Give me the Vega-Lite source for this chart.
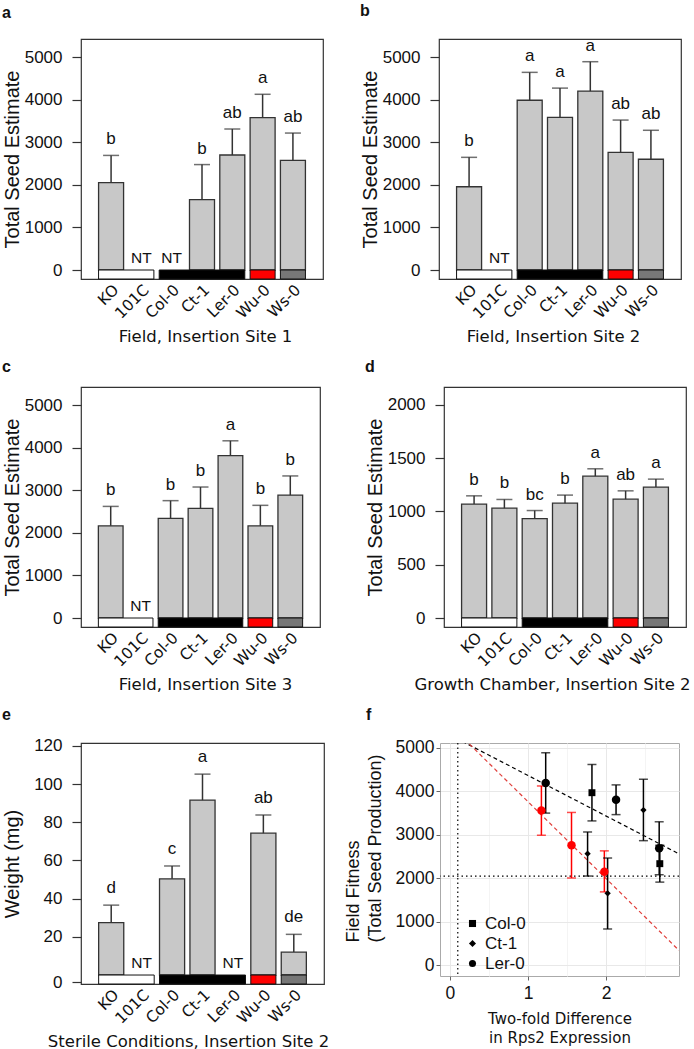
{
"$schema": "https://vega.github.io/schema/vega-lite/v6.json",
"background": "white",
"padding": {"left": 1, "top": 2, "right": 0, "bottom": 0},
"config": {
 "font": "Liberation Sans",
 "view": {"stroke": "#333333", "strokeWidth": 1.2},
 "title": {"anchor": "start", "frame": "bounds", "font": "Liberation Sans", "fontSize": 16, "fontWeight": "bold", "color": "#111111", "baseline": "alphabetic"},
 "axisX": {"labelAngle": -45, "domain": false, "ticks": false, "grid": false, "labelFont": "DejaVu Sans", "labelFontSize": 15.5, "labelColor": "#111111", "labelPadding": 3, "titleFont": "DejaVu Sans", "titleFontSize": 16.5, "titleFontWeight": "normal", "titleColor": "#111111", "titlePadding": 4, "minExtent": 45, "maxExtent": 45},
 "axisY": {"domain": false, "grid": false, "format": "d", "tickSize": 9, "tickColor": "#333333", "tickWidth": 1.2, "labelFont": "Liberation Sans", "labelFontSize": 17, "labelColor": "#111111", "labelPadding": 10, "titleFont": "Liberation Sans", "titleFontSize": 20, "titleFontWeight": "normal", "titleColor": "#111111", "titlePadding": 1, "minExtent": 58, "maxExtent": 58}
},
"datasets": {
 "strips": [
  {"group": "KO/101C", "first": "KO", "last": "101C"},
  {"group": "Col-0/Ct-1/Ler-0", "first": "Col-0", "last": "Ler-0"},
  {"group": "Wu-0", "first": "Wu-0", "last": "Wu-0"},
  {"group": "Ws-0", "first": "Ws-0", "last": "Ws-0"}
 ],
 "a": [
  {"genotype": "KO", "mean": 2050, "upper": 2690, "letter": "b"},
  {"genotype": "101C", "mean": null, "upper": null, "letter": "NT"},
  {"genotype": "Col-0", "mean": null, "upper": null, "letter": "NT"},
  {"genotype": "Ct-1", "mean": 1650, "upper": 2475, "letter": "b"},
  {"genotype": "Ler-0", "mean": 2700, "upper": 3310, "letter": "ab"},
  {"genotype": "Wu-0", "mean": 3575, "upper": 4125, "letter": "a"},
  {"genotype": "Ws-0", "mean": 2575, "upper": 3215, "letter": "ab"}
 ],
 "b": [
  {"genotype": "KO", "mean": 1955, "upper": 2645, "letter": "b"},
  {"genotype": "101C", "mean": null, "upper": null, "letter": "NT"},
  {"genotype": "Col-0", "mean": 3985, "upper": 4640, "letter": "a"},
  {"genotype": "Ct-1", "mean": 3585, "upper": 4270, "letter": "a"},
  {"genotype": "Ler-0", "mean": 4200, "upper": 4890, "letter": "a"},
  {"genotype": "Wu-0", "mean": 2760, "upper": 3520, "letter": "ab"},
  {"genotype": "Ws-0", "mean": 2600, "upper": 3280, "letter": "ab"}
 ],
 "c": [
  {"genotype": "KO", "mean": 2165, "upper": 2620, "letter": "b"},
  {"genotype": "101C", "mean": null, "upper": null, "letter": "NT"},
  {"genotype": "Col-0", "mean": 2340, "upper": 2755, "letter": "b"},
  {"genotype": "Ct-1", "mean": 2575, "upper": 3075, "letter": "b"},
  {"genotype": "Ler-0", "mean": 3810, "upper": 4160, "letter": "a"},
  {"genotype": "Wu-0", "mean": 2165, "upper": 2645, "letter": "b"},
  {"genotype": "Ws-0", "mean": 2885, "upper": 3335, "letter": "b"}
 ],
 "d": [
  {"genotype": "KO", "mean": 1070, "upper": 1147, "letter": "b"},
  {"genotype": "101C", "mean": 1031, "upper": 1113, "letter": "b"},
  {"genotype": "Col-0", "mean": 934, "upper": 1009, "letter": "bc"},
  {"genotype": "Ct-1", "mean": 1078, "upper": 1154, "letter": "b"},
  {"genotype": "Ler-0", "mean": 1332, "upper": 1401, "letter": "a"},
  {"genotype": "Wu-0", "mean": 1116, "upper": 1194, "letter": "ab"},
  {"genotype": "Ws-0", "mean": 1229, "upper": 1304, "letter": "a"}
 ],
 "e": [
  {"genotype": "KO", "mean": 27.4, "upper": 36.6, "letter": "d"},
  {"genotype": "101C", "mean": null, "upper": null, "letter": "NT"},
  {"genotype": "Col-0", "mean": 50.4, "upper": 57.1, "letter": "c"},
  {"genotype": "Ct-1", "mean": 91.6, "upper": 105.2, "letter": "a"},
  {"genotype": "Ler-0", "mean": null, "upper": null, "letter": "NT"},
  {"genotype": "Wu-0", "mean": 74.3, "upper": 83.8, "letter": "ab"},
  {"genotype": "Ws-0", "mean": 12.0, "upper": 21.3, "letter": "de"}
 ],
 "f": [
  {"genotype": "Ler-0", "x": 1.227, "mean": 4195, "lo": 3500, "hi": 4890},
  {"genotype": "Wu-0", "x": 1.172, "mean": 3560, "lo": 2990, "hi": 4125},
  {"genotype": "Wu-0", "x": 1.558, "mean": 2760, "lo": 2005, "hi": 3515},
  {"genotype": "Wu-0", "x": 1.979, "mean": 2150, "lo": 1685, "hi": 2630},
  {"genotype": "Col-0", "x": 1.82, "mean": 3970, "lo": 3320, "hi": 4620},
  {"genotype": "Ler-0", "x": 2.129, "mean": 3810, "lo": 3465, "hi": 4150},
  {"genotype": "Ct-1", "x": 2.48, "mean": 3570, "lo": 2865, "hi": 4280},
  {"genotype": "Ler-0", "x": 2.682, "mean": 2690, "lo": 2080, "hi": 3300},
  {"genotype": "Col-0", "x": 2.69, "mean": 2335, "lo": 1910, "hi": 2760},
  {"genotype": "Ct-1", "x": 1.764, "mean": 2565, "lo": 2050, "hi": 3065},
  {"genotype": "Ct-1", "x": 2.021, "mean": 1651, "lo": 830, "hi": 2465}
 ],
 "fref": [
  {"axis": "x", "value": 0.1},
  {"axis": "y", "value": 2050}
 ],
 "fits": [
  {"fit": "all", "x": 0.0, "y": 5300},
  {"fit": "all", "x": 2.94, "y": 2557},
  {"fit": "wu", "x": 0.25, "y": 5090},
  {"fit": "wu", "x": 2.94, "y": 330}
 ]
},
"resolve": {"scale": {"x": "independent", "y": "independent", "shape": "independent"}, "legend": {"shape": "independent"}},
"spacing": 12,
"vconcat": [
 {"resolve": {"scale": {"x": "independent", "y": "independent"}}, "spacing": 35, "hconcat": [
  {"width": 242, "height": 240, "title": {"text": "a", "offset": 18}, "data": {"name": "a"},
   "encoding": {"x": {"field": "genotype", "type": "nominal", "scale": {"domain": ["KO","101C","Col-0","Ct-1","Ler-0","Wu-0","Ws-0"], "paddingInner": 0.175, "paddingOuter": 0.58}, "axis": {"title": "Field, Insertion Site 1", "titleX": 124}}},
   "layer": [
    {"transform": [{"filter": "isValid(datum.mean)"}], "mark": {"type": "bar", "fill": "#c8c8c8", "stroke": "#333333", "strokeWidth": 1.3},
     "encoding": {"y": {"field": "mean", "type": "quantitative", "scale": {"domain": [-211, 5423], "nice": false, "zero": false}, "axis": {"values": [0,1000,2000,3000,4000,5000], "title": "Total Seed Estimate"}}, "y2": {"datum": 0}}},
    {"data": {"name": "strips"}, "mark": {"type": "rect", "stroke": "#111111", "strokeWidth": 1},
     "encoding": {"x": {"field": "first", "type": "nominal", "bandPosition": 0, "scale": {"domain": ["KO","101C","Col-0","Ct-1","Ler-0","Wu-0","Ws-0"], "paddingInner": 0.175, "paddingOuter": 0.58}}, "x2": {"field": "last", "bandPosition": 1},
      "y": {"datum": 0, "type": "quantitative", "scale": {"domain": [-211, 5423], "nice": false, "zero": false}}, "y2": {"datum": -211},
      "fill": {"field": "group", "type": "nominal", "scale": {"domain": ["KO/101C","Col-0/Ct-1/Ler-0","Wu-0","Ws-0"], "range": ["#ffffff","#000000","#ff0000","#777777"]}, "legend": null}}},
    {"transform": [{"filter": "isValid(datum.mean)"}], "mark": {"type": "rule", "color": "#333333", "strokeWidth": 1.5},
     "encoding": {"y": {"field": "mean", "type": "quantitative", "scale": {"domain": [-211, 5423], "nice": false, "zero": false}}, "y2": {"field": "upper"}}},
    {"transform": [{"filter": "isValid(datum.mean)"}], "mark": {"type": "tick", "color": "#333333", "thickness": 1.5, "size": 16},
     "encoding": {"y": {"field": "upper", "type": "quantitative", "scale": {"domain": [-211, 5423], "nice": false, "zero": false}}}},
    {"transform": [{"filter": "isValid(datum.mean)"}], "mark": {"type": "text", "fontSize": 17, "dy": -11, "baseline": "alphabetic", "color": "#111111"},
     "encoding": {"y": {"field": "upper", "type": "quantitative", "scale": {"domain": [-211, 5423], "nice": false, "zero": false}}, "text": {"field": "letter"}}},
    {"transform": [{"filter": "datum.letter === 'NT'"}], "mark": {"type": "text", "fontSize": 15.5, "dy": -7, "baseline": "alphabetic", "color": "#111111"},
     "encoding": {"y": {"datum": 0, "type": "quantitative", "scale": {"domain": [-211, 5423], "nice": false, "zero": false}}, "text": {"field": "letter"}}}
   ]},
  {"width": 242, "height": 240, "title": {"text": "b", "offset": 18}, "data": {"name": "b"},
   "encoding": {"x": {"field": "genotype", "type": "nominal", "scale": {"domain": ["KO","101C","Col-0","Ct-1","Ler-0","Wu-0","Ws-0"], "paddingInner": 0.175, "paddingOuter": 0.58}, "axis": {"title": "Field, Insertion Site 2", "titleX": 114}}},
   "layer": [
    {"transform": [{"filter": "isValid(datum.mean)"}], "mark": {"type": "bar", "fill": "#c8c8c8", "stroke": "#333333", "strokeWidth": 1.3},
     "encoding": {"y": {"field": "mean", "type": "quantitative", "scale": {"domain": [-211, 5423], "nice": false, "zero": false}, "axis": {"values": [0,1000,2000,3000,4000,5000], "title": "Total Seed Estimate"}}, "y2": {"datum": 0}}},
    {"data": {"name": "strips"}, "mark": {"type": "rect", "stroke": "#111111", "strokeWidth": 1},
     "encoding": {"x": {"field": "first", "type": "nominal", "bandPosition": 0, "scale": {"domain": ["KO","101C","Col-0","Ct-1","Ler-0","Wu-0","Ws-0"], "paddingInner": 0.175, "paddingOuter": 0.58}}, "x2": {"field": "last", "bandPosition": 1},
      "y": {"datum": 0, "type": "quantitative", "scale": {"domain": [-211, 5423], "nice": false, "zero": false}}, "y2": {"datum": -211},
      "fill": {"field": "group", "type": "nominal", "scale": {"domain": ["KO/101C","Col-0/Ct-1/Ler-0","Wu-0","Ws-0"], "range": ["#ffffff","#000000","#ff0000","#777777"]}, "legend": null}}},
    {"transform": [{"filter": "isValid(datum.mean)"}], "mark": {"type": "rule", "color": "#333333", "strokeWidth": 1.5},
     "encoding": {"y": {"field": "mean", "type": "quantitative", "scale": {"domain": [-211, 5423], "nice": false, "zero": false}}, "y2": {"field": "upper"}}},
    {"transform": [{"filter": "isValid(datum.mean)"}], "mark": {"type": "tick", "color": "#333333", "thickness": 1.5, "size": 16},
     "encoding": {"y": {"field": "upper", "type": "quantitative", "scale": {"domain": [-211, 5423], "nice": false, "zero": false}}}},
    {"transform": [{"filter": "isValid(datum.mean)"}], "mark": {"type": "text", "fontSize": 17, "dy": -11, "baseline": "alphabetic", "color": "#111111"},
     "encoding": {"y": {"field": "upper", "type": "quantitative", "scale": {"domain": [-211, 5423], "nice": false, "zero": false}}, "text": {"field": "letter"}}},
    {"transform": [{"filter": "datum.letter === 'NT'"}], "mark": {"type": "text", "fontSize": 15.5, "dy": -7, "baseline": "alphabetic", "color": "#111111"},
     "encoding": {"y": {"datum": 0, "type": "quantitative", "scale": {"domain": [-211, 5423], "nice": false, "zero": false}}, "text": {"field": "letter"}}}
   ]}
 ]},
 {"resolve": {"scale": {"x": "independent", "y": "independent"}}, "spacing": 43, "hconcat": [
  {"width": 239, "height": 240, "title": {"text": "c", "offset": 12}, "data": {"name": "c"},
   "encoding": {"x": {"field": "genotype", "type": "nominal", "scale": {"domain": ["KO","101C","Col-0","Ct-1","Ler-0","Wu-0","Ws-0"], "paddingInner": 0.175, "paddingOuter": 0.58}, "axis": {"title": "Field, Insertion Site 3", "titleX": 124}}},
   "layer": [
    {"transform": [{"filter": "isValid(datum.mean)"}], "mark": {"type": "bar", "fill": "#c8c8c8", "stroke": "#333333", "strokeWidth": 1.3},
     "encoding": {"y": {"field": "mean", "type": "quantitative", "scale": {"domain": [-211, 5423], "nice": false, "zero": false}, "axis": {"values": [0,1000,2000,3000,4000,5000], "title": "Total Seed Estimate"}}, "y2": {"datum": 0}}},
    {"data": {"name": "strips"}, "mark": {"type": "rect", "stroke": "#111111", "strokeWidth": 1},
     "encoding": {"x": {"field": "first", "type": "nominal", "bandPosition": 0, "scale": {"domain": ["KO","101C","Col-0","Ct-1","Ler-0","Wu-0","Ws-0"], "paddingInner": 0.175, "paddingOuter": 0.58}}, "x2": {"field": "last", "bandPosition": 1},
      "y": {"datum": 0, "type": "quantitative", "scale": {"domain": [-211, 5423], "nice": false, "zero": false}}, "y2": {"datum": -211},
      "fill": {"field": "group", "type": "nominal", "scale": {"domain": ["KO/101C","Col-0/Ct-1/Ler-0","Wu-0","Ws-0"], "range": ["#ffffff","#000000","#ff0000","#777777"]}, "legend": null}}},
    {"transform": [{"filter": "isValid(datum.mean)"}], "mark": {"type": "rule", "color": "#333333", "strokeWidth": 1.5},
     "encoding": {"y": {"field": "mean", "type": "quantitative", "scale": {"domain": [-211, 5423], "nice": false, "zero": false}}, "y2": {"field": "upper"}}},
    {"transform": [{"filter": "isValid(datum.mean)"}], "mark": {"type": "tick", "color": "#333333", "thickness": 1.5, "size": 16},
     "encoding": {"y": {"field": "upper", "type": "quantitative", "scale": {"domain": [-211, 5423], "nice": false, "zero": false}}}},
    {"transform": [{"filter": "isValid(datum.mean)"}], "mark": {"type": "text", "fontSize": 17, "dy": -11, "baseline": "alphabetic", "color": "#111111"},
     "encoding": {"y": {"field": "upper", "type": "quantitative", "scale": {"domain": [-211, 5423], "nice": false, "zero": false}}, "text": {"field": "letter"}}},
    {"transform": [{"filter": "datum.letter === 'NT'"}], "mark": {"type": "text", "fontSize": 15.5, "dy": -7, "baseline": "alphabetic", "color": "#111111"},
     "encoding": {"y": {"datum": 0, "type": "quantitative", "scale": {"domain": [-211, 5423], "nice": false, "zero": false}}, "text": {"field": "letter"}}}
   ]},
  {"width": 242, "height": 240, "title": {"text": "d", "offset": 12}, "data": {"name": "d"},
   "encoding": {"x": {"field": "genotype", "type": "nominal", "scale": {"domain": ["KO","101C","Col-0","Ct-1","Ler-0","Wu-0","Ws-0"], "paddingInner": 0.175, "paddingOuter": 0.58}, "axis": {"title": "Growth Chamber, Insertion Site 2", "titleX": 108}}},
   "layer": [
    {"transform": [{"filter": "isValid(datum.mean)"}], "mark": {"type": "bar", "fill": "#c8c8c8", "stroke": "#333333", "strokeWidth": 1.3},
     "encoding": {"y": {"field": "mean", "type": "quantitative", "scale": {"domain": [-84.5, 2169], "nice": false, "zero": false}, "axis": {"values": [0,500,1000,1500,2000], "title": "Total Seed Estimate"}}, "y2": {"datum": 0}}},
    {"data": {"name": "strips"}, "mark": {"type": "rect", "stroke": "#111111", "strokeWidth": 1},
     "encoding": {"x": {"field": "first", "type": "nominal", "bandPosition": 0, "scale": {"domain": ["KO","101C","Col-0","Ct-1","Ler-0","Wu-0","Ws-0"], "paddingInner": 0.175, "paddingOuter": 0.58}}, "x2": {"field": "last", "bandPosition": 1},
      "y": {"datum": 0, "type": "quantitative", "scale": {"domain": [-84.5, 2169], "nice": false, "zero": false}}, "y2": {"datum": -84.5},
      "fill": {"field": "group", "type": "nominal", "scale": {"domain": ["KO/101C","Col-0/Ct-1/Ler-0","Wu-0","Ws-0"], "range": ["#ffffff","#000000","#ff0000","#777777"]}, "legend": null}}},
    {"transform": [{"filter": "isValid(datum.mean)"}], "mark": {"type": "rule", "color": "#333333", "strokeWidth": 1.5},
     "encoding": {"y": {"field": "mean", "type": "quantitative", "scale": {"domain": [-84.5, 2169], "nice": false, "zero": false}}, "y2": {"field": "upper"}}},
    {"transform": [{"filter": "isValid(datum.mean)"}], "mark": {"type": "tick", "color": "#333333", "thickness": 1.5, "size": 16},
     "encoding": {"y": {"field": "upper", "type": "quantitative", "scale": {"domain": [-84.5, 2169], "nice": false, "zero": false}}}},
    {"transform": [{"filter": "isValid(datum.mean)"}], "mark": {"type": "text", "fontSize": 17, "dy": -11, "baseline": "alphabetic", "color": "#111111"},
     "encoding": {"y": {"field": "upper", "type": "quantitative", "scale": {"domain": [-84.5, 2169], "nice": false, "zero": false}}, "text": {"field": "letter"}}}
   ]}
 ]},
 {"resolve": {"scale": {"x": "independent", "y": "independent", "shape": "independent"}, "legend": {"shape": "independent"}}, "spacing": 13, "hconcat": [
  {"width": 243, "height": 241, "title": {"text": "e", "offset": 14}, "data": {"name": "e"},
   "encoding": {"x": {"field": "genotype", "type": "nominal", "scale": {"domain": ["KO","101C","Col-0","Ct-1","Ler-0","Wu-0","Ws-0"], "paddingInner": 0.175, "paddingOuter": 0.58}, "axis": {"title": "Sterile Conditions, Insertion Site 2", "titleX": 107}}},
   "layer": [
    {"transform": [{"filter": "isValid(datum.mean)"}], "mark": {"type": "bar", "fill": "#c8c8c8", "stroke": "#333333", "strokeWidth": 1.3},
     "encoding": {"y": {"field": "mean", "type": "quantitative", "scale": {"domain": [-4.7, 121.5], "nice": false, "zero": false}, "axis": {"values": [-3.7,20,40,60,80,100,120], "labelExpr": "datum.value < 0 ? '0' : datum.label", "title": "Weight (mg)"}}, "y2": {"datum": 0}}},
    {"data": {"name": "strips"}, "mark": {"type": "rect", "stroke": "#111111", "strokeWidth": 1},
     "encoding": {"x": {"field": "first", "type": "nominal", "bandPosition": 0, "scale": {"domain": ["KO","101C","Col-0","Ct-1","Ler-0","Wu-0","Ws-0"], "paddingInner": 0.175, "paddingOuter": 0.58}}, "x2": {"field": "last", "bandPosition": 1},
      "y": {"datum": 0, "type": "quantitative", "scale": {"domain": [-4.7, 121.5], "nice": false, "zero": false}}, "y2": {"datum": -4.7},
      "fill": {"field": "group", "type": "nominal", "scale": {"domain": ["KO/101C","Col-0/Ct-1/Ler-0","Wu-0","Ws-0"], "range": ["#ffffff","#000000","#ff0000","#777777"]}, "legend": null}}},
    {"transform": [{"filter": "isValid(datum.mean)"}], "mark": {"type": "rule", "color": "#333333", "strokeWidth": 1.5},
     "encoding": {"y": {"field": "mean", "type": "quantitative", "scale": {"domain": [-4.7, 121.5], "nice": false, "zero": false}}, "y2": {"field": "upper"}}},
    {"transform": [{"filter": "isValid(datum.mean)"}], "mark": {"type": "tick", "color": "#333333", "thickness": 1.5, "size": 16},
     "encoding": {"y": {"field": "upper", "type": "quantitative", "scale": {"domain": [-4.7, 121.5], "nice": false, "zero": false}}}},
    {"transform": [{"filter": "isValid(datum.mean)"}], "mark": {"type": "text", "fontSize": 17, "dy": -12, "baseline": "alphabetic", "color": "#111111"},
     "encoding": {"y": {"field": "upper", "type": "quantitative", "scale": {"domain": [-4.7, 121.5], "nice": false, "zero": false}}, "text": {"field": "letter"}}},
    {"transform": [{"filter": "datum.letter === 'NT'"}], "mark": {"type": "text", "fontSize": 15.5, "dy": -7, "baseline": "alphabetic", "color": "#111111"},
     "encoding": {"y": {"datum": 0, "type": "quantitative", "scale": {"domain": [-4.7, 121.5], "nice": false, "zero": false}}, "text": {"field": "letter"}}}
   ]},
  {"width": 239, "height": 233, "title": {"text": "f", "offset": 16, "dx": 22},
   "view": {"stroke": "#aaaaaa", "strokeWidth": 1},
   "layer": [
    {"data": {"name": "fref"}, "transform": [{"filter": "datum.axis === 'x'"}],
     "mark": {"type": "rule", "color": "#000000", "strokeDash": [1.5, 3], "strokeWidth": 1.2},
     "encoding": {"x": {"field": "value", "type": "quantitative", "scale": {"domain": [-0.128, 2.936], "nice": false, "zero": false},
       "axis": {"values": [0,0.5,1,1.5,2,2.5], "labelExpr": "datum.value % 1 === 0 ? format(datum.value, 'd') : ''", "title": ["Two-fold Difference", "in Rps2 Expression"], "labelAngle": 0, "ticks": true, "tickSize": 4, "tickColor": {"condition": {"test": "datum.value % 1 !== 0", "value": "rgba(0,0,0,0)"}, "value": "#666666"}, "tickWidth": 1, "domain": false, "grid": true, "gridColor": {"condition": {"test": "datum.value % 1 !== 0", "value": "#f4f4f4"}, "value": "#e8e8e8"}, "labelFont": "Liberation Sans", "labelFontSize": 17.5, "labelColor": "#111111", "labelPadding": 4, "titleFont": "DejaVu Sans", "titleFontSize": 15, "titleLineHeight": 19, "titlePadding": 9, "minExtent": 26, "maxExtent": 26}}}},
    {"data": {"name": "fref"}, "transform": [{"filter": "datum.axis === 'y'"}],
     "mark": {"type": "rule", "color": "#000000", "strokeDash": [1.5, 3], "strokeWidth": 1.2},
     "encoding": {"y": {"field": "value", "type": "quantitative", "scale": {"domain": [-253, 5115], "nice": false, "zero": false},
       "axis": {"values": [0,500,1000,1500,2000,2500,3000,3500,4000,4500,5000], "labelExpr": "datum.value % 1000 === 0 ? format(datum.value, 'd') : ''", "title": ["Field Fitness", "(Total Seed Production)"], "tickSize": 4, "tickColor": {"condition": {"test": "datum.value % 1000 !== 0", "value": "rgba(0,0,0,0)"}, "value": "#666666"}, "tickWidth": 1, "domain": false, "grid": true, "gridColor": {"condition": {"test": "datum.value % 1000 !== 0", "value": "#f4f4f4"}, "value": "#e8e8e8"}, "labelFont": "Liberation Sans", "labelFontSize": 17.5, "labelColor": "#111111", "labelPadding": 2, "titleFont": "Liberation Sans", "titleFontSize": 18, "titleLineHeight": 22, "titleAlign": "left", "titleY": 199, "titlePadding": 10, "minExtent": 46, "maxExtent": 46}}}},
    {"data": {"name": "fits"}, "transform": [{"filter": "datum.fit === 'all'"}],
     "mark": {"type": "line", "color": "#000000", "strokeDash": [4, 3], "strokeWidth": 1.2, "clip": true},
     "encoding": {"x": {"field": "x", "type": "quantitative", "scale": {"domain": [-0.128, 2.936], "nice": false, "zero": false}}, "y": {"field": "y", "type": "quantitative", "scale": {"domain": [-253, 5115], "nice": false, "zero": false}}}},
    {"data": {"name": "fits"}, "transform": [{"filter": "datum.fit === 'wu'"}],
     "mark": {"type": "line", "color": "#e0403c", "strokeDash": [4, 3], "strokeWidth": 1.2, "clip": true},
     "encoding": {"x": {"field": "x", "type": "quantitative", "scale": {"domain": [-0.128, 2.936], "nice": false, "zero": false}}, "y": {"field": "y", "type": "quantitative", "scale": {"domain": [-253, 5115], "nice": false, "zero": false}}}},
    {"data": {"name": "f"}, "mark": {"type": "rule", "strokeWidth": 1.5},
     "encoding": {"x": {"field": "x", "type": "quantitative", "scale": {"domain": [-0.128, 2.936], "nice": false, "zero": false}}, "y": {"field": "lo", "type": "quantitative", "scale": {"domain": [-253, 5115], "nice": false, "zero": false}}, "y2": {"field": "hi"},
      "color": {"condition": {"test": "datum.genotype === 'Wu-0'", "value": "#ff0000"}, "value": "#000000"}}},
    {"data": {"name": "f"}, "mark": {"type": "tick", "orient": "horizontal", "size": 9, "thickness": 1.5},
     "encoding": {"x": {"field": "x", "type": "quantitative", "scale": {"domain": [-0.128, 2.936], "nice": false, "zero": false}}, "y": {"field": "lo", "type": "quantitative", "scale": {"domain": [-253, 5115], "nice": false, "zero": false}},
      "color": {"condition": {"test": "datum.genotype === 'Wu-0'", "value": "#ff0000"}, "value": "#000000"}}},
    {"data": {"name": "f"}, "mark": {"type": "tick", "orient": "horizontal", "size": 9, "thickness": 1.5},
     "encoding": {"x": {"field": "x", "type": "quantitative", "scale": {"domain": [-0.128, 2.936], "nice": false, "zero": false}}, "y": {"field": "hi", "type": "quantitative", "scale": {"domain": [-253, 5115], "nice": false, "zero": false}},
      "color": {"condition": {"test": "datum.genotype === 'Wu-0'", "value": "#ff0000"}, "value": "#000000"}}},
    {"data": {"name": "f"}, "mark": {"type": "point", "filled": true, "opacity": 1},
     "encoding": {"x": {"field": "x", "type": "quantitative", "scale": {"domain": [-0.128, 2.936], "nice": false, "zero": false}}, "y": {"field": "mean", "type": "quantitative", "scale": {"domain": [-253, 5115], "nice": false, "zero": false}},
      "color": {"condition": {"test": "datum.genotype === 'Wu-0'", "value": "#ff0000"}, "value": "#000000"},
      "size": {"condition": [{"test": "datum.genotype === 'Col-0'", "value": 48}, {"test": "datum.genotype === 'Ct-1'", "value": 40}], "value": 72},
      "shape": {"field": "genotype", "type": "nominal", "scale": {"domain": ["Col-0","Ct-1","Ler-0","Wu-0"], "range": ["square","diamond","circle","circle"]},
       "legend": {"values": ["Col-0","Ct-1","Ler-0"], "title": null, "orient": "none", "legendX": 24, "legendY": 172, "padding": 0, "rowPadding": 2, "labelFont": "Liberation Sans", "labelFontSize": 17, "labelColor": "#111111", "labelOffset": 4, "symbolFillColor": "#000000", "symbolStrokeColor": "#000000", "symbolStrokeWidth": 0, "symbolSize": 50}}}}
   ]}
 ]}
]
}
